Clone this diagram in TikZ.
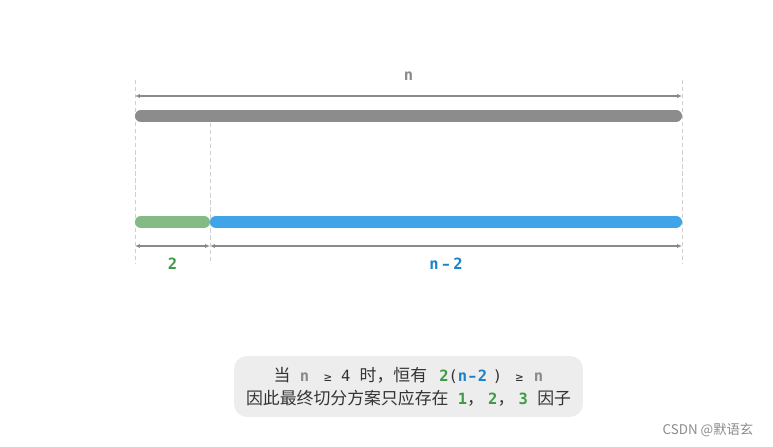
\documentclass[tikz,border=0pt]{standalone}
\usepackage{fontspec}
\usepackage{tikz}
\usetikzlibrary{arrows.meta}
\newfontfamily\cjk{Noto Sans CJK SC}
\newfontfamily\monof{DejaVu Sans Mono}
\newfontfamily\dashf{DejaVu Sans}
\definecolor{bargray}{HTML}{8C8C8C}
\definecolor{bargreen}{HTML}{84BA84}
\definecolor{barblue}{HTML}{3FA4E8}
\definecolor{txtgreen}{HTML}{3E9A47}
\definecolor{txtblue}{HTML}{1A82C8}
\definecolor{txtgray}{HTML}{8A8A8A}
\definecolor{guide}{HTML}{D0D0D0}
\definecolor{boxfill}{HTML}{EDEDED}
\newcommand{\mono}{\monof\fontsize{11}{16.4}\selectfont}
\newcommand{\geqsym}{{\fontsize{9}{10}\selectfont ≥}}
\newcommand{\ndash}{{\dashf\bfseries –}}
\tikzset{
	bar/.style = {line width=8.6pt, line cap=round},
	dim/.style = {draw=txtgray, line width=0.9pt, {Latex[length=3.5pt,width=3pt]}-{Latex[length=3.5pt,width=3pt]}},
	guideline/.style = {draw=guide, line width=0.6pt, dashed, dash pattern=on 3pt off 2pt},
	lbl/.style = {font=\monof\bfseries\fontsize{11}{13}\selectfont},
}

\begin{document}
\begin{tikzpicture}[x=0.025cm, y=-0.025cm]
	\useasboundingbox (0,0) rectangle (773,446);
	% guides
	\coordinate (gl1) at (135,80);  \coordinate (gl2) at (135,263);
	\coordinate (gm1) at (210,123); \coordinate (gm2) at (210,263);
	\coordinate (gr1) at (682,80);  \coordinate (gr2) at (682,263);
	\draw [guideline] (gl1) -- (gl2);
	\draw [guideline] (gm1) -- (gm2);
	\draw [guideline] (gr1) -- (gr2);
	% top: whole length n
	\coordinate (ta) at (135,96);  \coordinate (tb) at (682,96);
	\draw [dim] (ta) -- (tb) node [lbl, text=txtgray, midway, above=7pt] (n) {n};
	\coordinate (wa) at (141,116); \coordinate (wb) at (676,116);
	\draw [bar, bargray] (wa) -- (wb);
	% bottom: split into 2 and n-2
	\coordinate (ga) at (141,222); \coordinate (gb) at (204,222);
	\coordinate (ba) at (216,222); \coordinate (bb) at (676,222);
	\draw [bar, bargreen] (ga) -- (gb);
	\draw [bar, barblue] (ba) -- (bb);
	\coordinate (da) at (135,246); \coordinate (dm) at (210,246); \coordinate (db) at (682,246);
	\draw [dim] (da) -- (dm) node [lbl, text=txtgreen, midway, below=5pt] (two) {2};
	\draw [dim] (dm) -- (db) node [lbl, text=txtblue, midway, below=5pt] (nm2) {n\hspace{2.5pt}\ndash\hspace{2.5pt}2};
	% note
	\node [fill=boxfill, rounded corners=9pt, minimum width=8.72cm, minimum height=1.52cm,
		align=center, font=\cjk\fontsize{12}{16.4}\selectfont, text=black!80] (note) at (408.5,386.5)
		{当{\mono\ {\bfseries\color{txtgray}n}\ \hspace{4pt}\geqsym\ 4\ }时，恒有{\mono\hspace{2pt}\ {\bfseries\color{txtgreen}2}({\bfseries\color{txtblue}n\hspace{1pt}\ndash\hspace{1pt}2}\hspace{4pt})\hspace{3pt}\ \geqsym\ \hspace{1pt}{\bfseries\color{txtgray}n}}\\
		因此最终切分方案只应存在{\mono\bfseries\color{txtgreen}\ 1}，{\mono\bfseries\color{txtgreen}\hspace{3pt}2}，{\mono\bfseries\color{txtgreen}\hspace{3pt}3\ }因子};
	\node [font=\cjk\fontsize{9.5}{11}\selectfont, text=black!45] (mark) at (708,430) {CSDN @默语玄};
\end{tikzpicture}
\end{document}
